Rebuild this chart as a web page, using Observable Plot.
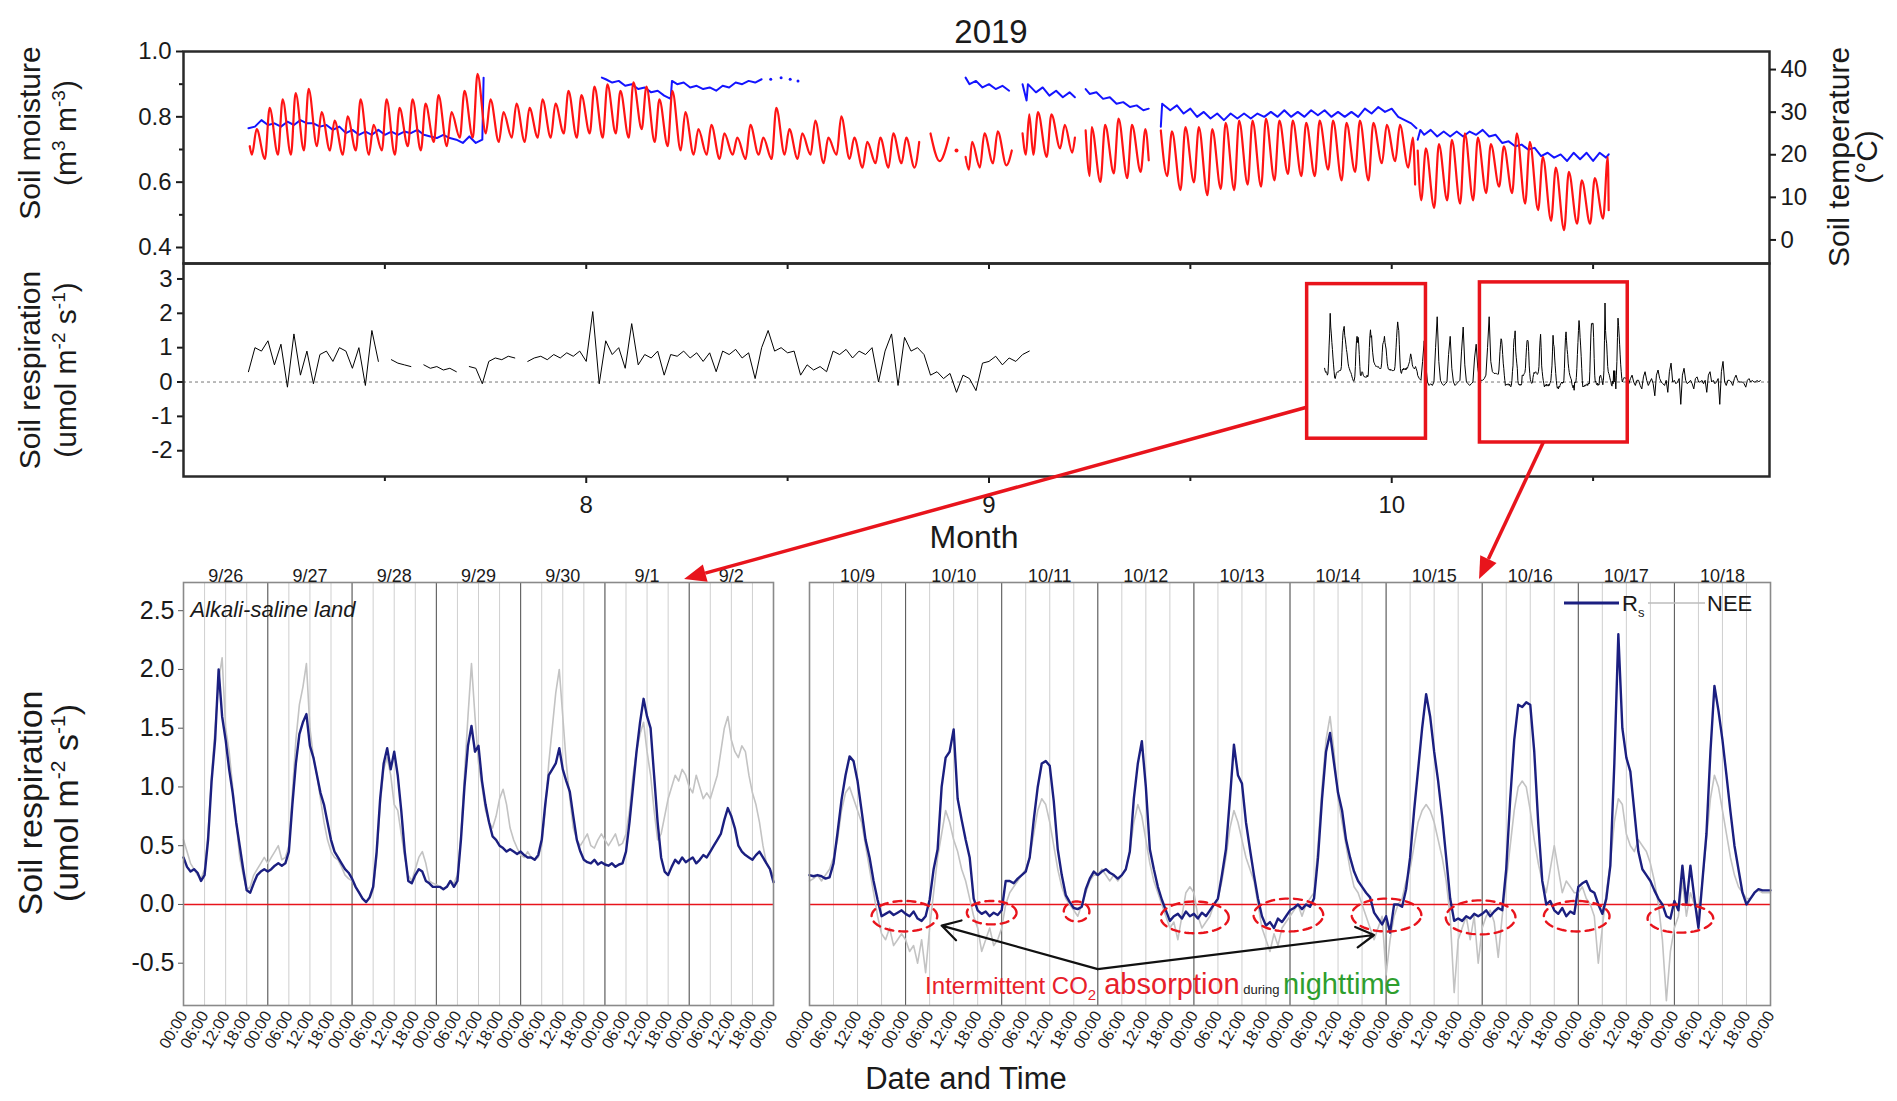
<!DOCTYPE html>
<html>
<head>
<meta charset="utf-8">
<script src="https://cdn.jsdelivr.net/npm/d3@7"></script>
<script src="https://cdn.jsdelivr.net/npm/@observablehq/plot@0.6"></script>
<style>
  html,body{margin:0;padding:0;background:#fff;}
  #page{position:relative;width:1897px;height:1101px;overflow:hidden;background:#fff;}
</style>
</head>
<body>
<div id="page"></div>
<script>
// ================= DATA =================
// Top & middle panels: time in days counted from 1 July 2019 00:00
const monthTicks = [8, 9, 10];
const monthMinorTicks = [7.5, 8.5, 9.5, 10.5];
const moistureTicks = [0.4, 0.6, 0.8, 1.0];
const moistureMinorTicks = [0.5, 0.7, 0.9];
const tempTicks = [0, 10, 20, 30, 40];
const respTicks = [-2, -1, 0, 1, 2, 3];

// Soil temperature (°C): daily [min, max] readings and short segments [day, value]
const tempJulAugHead = [[5.1, 22]];
const tempJulAugStart = 5;
const tempJulAug = [[20,26],[19,31],[20,33],[20,34.5],[21,35.5],[22,30],[21,28],[20,29],[21,33],[20,27],
  [21,33],[20,31],[22,33],[21,32],[23,34],[22,30],[24,35],[24,39],[25,33],[23,30],
  [24,32],[23,31],[24,33],[24,32],[25,35],[24,34],[25,36],[24,36.5],[25,35],[24,37],
  [26,36],[23,33],[22,35],[21,30],[20,26],[20,27],[19,25],[20,24],[19,27],[20,24],
  [19,31],[20,26],[19,25],[20,28],[18,24],[20,29],[19,24],[17,23],[18,24],[17,25],[18,24],[17,23]];
const tempLateAug = [[57.5,25],[58.2,18.5],[58.9,24]];
const tempDot = [[59.5,21]];
const tempSep1 = [[60.2,19.5],[60.45,16.5],[60.7,23],[61.3,17],[61.65,25],[62.3,18],[62.65,25.5],[63.3,17.5],[63.7,21]];
const tempSep4 = [[64.5,25],[64.75,20],[65.0,29.5],[65.3,20],[65.65,30],[66.3,19.5],[66.65,29.5],[67.3,21.5],[67.65,27],[68.2,20.5],[68.4,24]];
const tempSep8 = [[69.2,25.7],[69.5,15],[69.65,26.5],[70.3,13.6],[70.65,27],[71.3,15.6],[71.65,28.5],[72.3,14.5],[72.65,27],[73.3,16],[73.65,26],[73.9,18.7]];
const tempSep14Head = [[74.8,25.7]];
const tempSep14Start = 75;
const tempSep14 = [[15,25.5],[11.7,26.5],[13.5,26.5],[10.5,26],[12,27.5],[11.7,28],[13,28],[12.5,28.5],[14,28],[15.5,28],
  [15,27.5],[15,28],[16.5,28],[14,27.5],[16,28],[14,27.5],[18,27],[18.5,27],[17,24]];
const tempSep14Tail = [[93.8,13]];
const tempOct3Head = [[94.0,21]];
const tempOct3Start = 94;
const tempOct3 = [[9.3,21.5],[7.5,22.5],[9.3,23.5],[8.5,25],[9.3,24],[11,22.5],[12.5,22],[11,25],[8.5,23],[7,19.5],
  [4.5,17],[2.3,16],[3.8,14],[3.8,14.5],[5,19.5]];
const tempOct3Tail = [[108.7,7]];

// Soil moisture (m3 m-3): [day, value]
const moistJul = [[5,0.765],[5.5,0.77],[6,0.79],[6.5,0.775],[7,0.78],[7.5,0.77],[8,0.785],[8.5,0.775],[9,0.79],[9.5,0.78],
  [10,0.78],[10.5,0.77],[11,0.775],[11.5,0.76],[12,0.77],[12.5,0.75],[13,0.76],[13.5,0.745],[14,0.755],[14.5,0.745],
  [15,0.76],[15.5,0.745],[16,0.755],[16.5,0.745],[17,0.755],[17.5,0.75],[18,0.76],[18.5,0.745],[19,0.74],[19.5,0.735],
  [20,0.745],[20.5,0.735],[21,0.73],[21.5,0.72],[22,0.74],[22.5,0.72],[23,0.73],[23.1,0.92]];
const moistAug = [[32.2,0.92],[32.5,0.915],[33,0.905],[33.5,0.91],[34,0.895],[34.5,0.9],[35,0.885],[35.5,0.89],[36,0.875],[36.5,0.88],
  [37,0.865],[37.5,0.855],[37.6,0.91],[38,0.9],[38.5,0.905],[39,0.89],[39.5,0.895],[40,0.885],[40.5,0.89],[41,0.88],
  [41.5,0.895],[42,0.89],[42.5,0.905],[43,0.9],[43.5,0.91],[44,0.905],[44.5,0.915]];
const moistAugDots = [[45.2,0.915],[46,0.92],[46.7,0.915],[47.3,0.91]];
const moistSep1 = [[60.2,0.92],[60.5,0.9],[61,0.91],[61.5,0.89],[62,0.9],[62.5,0.885],[63,0.895],[63.5,0.88]];
const moistSep4 = [[64.5,0.9],[64.8,0.85],[64.9,0.9],[65.5,0.875],[66,0.89],[66.5,0.865],[67,0.88],[67.5,0.86],[68,0.875],[68.4,0.86]];
const moistSep8 = [[69.2,0.885],[69.5,0.87],[70,0.875],[70.5,0.855],[71,0.86],[71.5,0.84],[72,0.845],[72.5,0.83],[73,0.835],[73.5,0.82],[73.9,0.825]];
const moistSep14 = [[74.8,0.77],[74.9,0.84],[75.5,0.82],[76,0.835],[76.5,0.81],[77,0.825],[77.5,0.8],[78,0.815],[78.5,0.795],[79,0.81],
  [79.5,0.79],[80,0.81],[80.5,0.795],[81,0.81],[81.5,0.795],[82,0.81],[82.5,0.8],[83,0.815],[83.5,0.8],[84,0.82],
  [84.5,0.8],[85,0.815],[85.5,0.8],[86,0.82],[86.5,0.805],[87,0.82],[87.5,0.8],[88,0.815],[88.5,0.8],[89,0.815],
  [89.5,0.8],[90,0.825],[90.5,0.81],[91,0.83],[91.5,0.815],[92,0.825],[92.5,0.8],[93,0.79],[93.5,0.78],[93.9,0.765]];
const moistOct = [[94,0.73],[94.2,0.76],[94.5,0.745],[95,0.76],[95.5,0.74],[96,0.755],[96.5,0.74],[97,0.755],[97.5,0.74],[98,0.755],
  [98.5,0.745],[99,0.76],[99.5,0.74],[100,0.745],[100.5,0.72],[101,0.725],[101.5,0.71],[102,0.715],[102.5,0.7],[103,0.705],
  [103.5,0.68],[104,0.69],[104.5,0.675],[105,0.685],[105.5,0.665],[106,0.69],[106.5,0.67],[107,0.69],[107.5,0.665],[108,0.69],
  [108.5,0.675],[108.7,0.685]];

// Soil respiration overview, 6 Jul - 4 Sep, every 12 h (null = gap)
const respJulSepStart = 5;
const respJulSep = [0.3,1.0,0.9,1.2,0.5,1.1,-0.15,1.4,0.2,0.9,
  -0.05,0.8,0.9,0.6,1.0,0.9,0.4,1.0,-0.1,1.5,
  0.6,null,0.65,0.55,0.5,0.45,null,0.5,0.4,0.45,
  0.35,0.4,0.3,null,0.45,0.4,-0.05,0.6,0.7,0.65,
  0.75,0.7,null,0.6,0.7,0.75,0.65,0.8,0.7,0.85,
  0.75,0.9,0.6,2.05,-0.05,1.2,0.8,1.0,0.4,1.7,
  0.5,0.8,0.7,0.9,0.2,0.8,0.75,0.9,0.7,0.85,
  0.6,0.85,0.3,0.9,0.8,0.95,0.7,0.85,0.1,1.0,
  1.5,0.9,1.0,0.85,0.9,0.2,0.5,0.35,0.45,0.3,
  0.9,0.8,0.95,0.7,0.9,0.8,1.0,0.0,0.9,1.4,
  -0.1,1.3,0.9,1.0,0.8,0.2,0.3,0.1,0.25,-0.3,
  0.2,0.1,-0.25,0.55,0.6,0.75,0.5,0.7,0.6,0.8,0.9];
// 3 Oct - 8 Oct, every 3 h
const respOct3 = [0.19,0.10,0.05,0.6,1.2,0.5,0.0,-0.1, -0.05,-0.1,0.0,1.0,1.9,0.6,0.05,-0.05,
  -0.1,-0.05,0.0,0.8,1.33,0.4,0.0,-0.1, -0.05,0.0,0.05,0.9,1.6,0.5,0.0,-0.05,
  -0.1,-0.05,0.0,0.7,1.1,0.4,0.1,0.05, 0.05,0.1,0.2,1.0,1.9,0.6,0.3,0.25];
// 19 Oct - 29 Oct, every 3 h
const respOct19 = [0.12,0.05,-0.05,0.1,0.2,0.0,-0.1,0.05, 0.05,-0.1,-0.2,0.15,0.3,0.05,-0.1,0.0,
  0.1,-0.05,-0.4,0.2,0.35,0.1,0.0,-0.05, -0.1,0.05,-0.3,0.3,0.55,0.0,0.05,-0.05,
  0.0,0.1,-0.65,0.2,0.4,0.05,-0.05,0.0, 0.05,-0.05,-0.2,0.1,0.15,0.0,0.0,0.05,
  -0.05,0.05,-0.3,0.2,0.3,0.0,0.05,-0.05, 0.0,0.1,-0.65,0.3,0.6,0.0,-0.1,0.05,
  0.05,0.0,-0.1,0.1,0.2,0.05,0.0,0.0, 0.0,-0.05,-0.15,0.05,0.1,0.0,0.05,0.0,
  0.0,0.05,0.0,0.05];

// Highlight boxes on the overview (month units, respiration units)
const boxX1 = [9.79, 10.219];
const boxX2 = [10.085, 10.586];
const boxY1 = [-1.65, -1.76];
const boxY2 = [2.85, 2.9];

// Bottom panels: hourly Rs and NEE
const leftDateLabels = ["9/26","9/27","9/28","9/29","9/30","9/1","9/2"];
const rightDateLabels = ["10/9","10/10","10/11","10/12","10/13","10/14","10/15","10/16","10/17","10/18"];
const bottomYTicks = [-0.5, 0, 0.5, 1, 1.5, 2, 2.5];

const rsLeft = [
  0.40,0.32,0.28,0.30,0.27,0.20,0.25,0.55,1.05,1.40,2.00,1.60,1.40,1.15,0.95,0.70,0.50,0.30,0.12,0.10,0.18,0.25,0.28,0.30,
  0.28,0.30,0.33,0.35,0.33,0.35,0.45,0.85,1.20,1.45,1.55,1.62,1.35,1.25,1.10,0.95,0.85,0.70,0.55,0.45,0.40,0.35,0.30,0.27,
  0.22,0.15,0.10,0.05,0.02,0.06,0.15,0.45,0.90,1.20,1.33,1.15,1.30,1.10,0.80,0.45,0.20,0.18,0.25,0.30,0.28,0.20,0.18,0.15,
  0.15,0.15,0.13,0.15,0.20,0.15,0.20,0.55,1.00,1.35,1.52,1.30,1.35,1.05,0.85,0.70,0.58,0.55,0.50,0.48,0.45,0.47,0.45,0.43,
  0.45,0.42,0.40,0.40,0.38,0.42,0.55,0.85,1.10,1.15,1.20,1.33,1.15,1.05,0.96,0.75,0.55,0.45,0.38,0.36,0.35,0.38,0.34,0.36,
  0.34,0.33,0.35,0.32,0.34,0.35,0.45,0.70,1.00,1.30,1.55,1.75,1.60,1.50,1.10,0.70,0.40,0.28,0.25,0.32,0.38,0.35,0.40,0.36,
  0.38,0.40,0.35,0.38,0.42,0.40,0.45,0.50,0.55,0.60,0.72,0.82,0.75,0.65,0.50,0.45,0.42,0.40,0.38,0.42,0.45,0.40,0.35,0.30,
  0.19];
const neeLeft = [
  0.55,0.45,0.35,0.30,0.25,0.22,0.30,0.60,1.10,1.50,1.90,2.10,1.50,1.30,1.00,0.70,0.40,0.25,0.12,0.15,0.25,0.30,0.35,0.40,
  0.35,0.40,0.45,0.50,0.38,0.40,0.50,0.95,1.40,1.70,1.85,2.05,1.50,1.25,1.10,0.90,0.70,0.55,0.45,0.40,0.38,0.32,0.25,0.22,
  0.20,0.15,0.10,0.05,0.02,0.05,0.12,0.40,0.85,1.15,1.25,1.10,0.85,0.80,0.60,0.40,0.25,0.20,0.30,0.40,0.45,0.35,0.20,0.18,
  0.17,0.15,0.13,0.15,0.20,0.18,0.25,0.60,1.10,1.60,2.05,1.60,1.20,1.00,0.80,0.70,0.65,0.75,0.90,0.98,0.85,0.65,0.55,0.48,
  0.42,0.40,0.45,0.40,0.38,0.40,0.50,0.80,1.20,1.50,1.80,2.00,1.60,1.20,0.90,0.65,0.55,0.50,0.55,0.60,0.50,0.48,0.55,0.60,
  0.55,0.50,0.55,0.60,0.50,0.52,0.60,0.80,1.10,1.30,1.45,1.55,1.30,1.10,0.80,0.55,0.60,0.75,0.90,1.00,1.10,1.05,1.15,1.10,
  1.00,0.95,1.10,1.00,0.90,0.95,0.90,1.00,1.10,1.30,1.50,1.60,1.40,1.30,1.25,1.35,1.30,1.10,0.95,0.85,0.70,0.50,0.35,0.30,
  0.25];
const rsRight = [
  0.25,0.24,0.25,0.24,0.22,0.23,0.35,0.61,0.89,1.10,1.26,1.22,1.05,0.80,0.55,0.40,0.20,0.04,-0.10,-0.08,-0.06,-0.09,-0.07,-0.05,
  -0.08,-0.10,-0.06,-0.12,-0.14,-0.10,0.04,0.30,0.47,1.00,1.25,1.30,1.49,0.90,0.72,0.55,0.40,0.05,-0.05,-0.08,-0.06,-0.10,-0.07,-0.09,
  -0.05,0.20,0.20,0.18,0.22,0.25,0.28,0.40,0.72,1.00,1.20,1.22,1.18,0.88,0.47,0.25,0.08,0.02,-0.03,-0.04,-0.02,0.13,0.22,0.28,
  0.25,0.28,0.30,0.27,0.25,0.22,0.25,0.30,0.45,0.90,1.20,1.39,1.00,0.47,0.30,0.15,0.04,-0.05,-0.14,-0.10,-0.08,-0.12,-0.06,-0.10,
  -0.08,-0.12,-0.07,-0.10,-0.05,0.00,0.05,0.25,0.47,0.90,1.36,1.10,1.03,0.70,0.47,0.25,0.05,-0.10,-0.18,-0.15,-0.20,-0.12,-0.15,-0.10,
  -0.05,-0.03,0.00,-0.04,0.00,-0.02,0.05,0.40,0.90,1.30,1.46,1.20,0.95,0.80,0.55,0.40,0.28,0.20,0.15,0.10,0.06,-0.07,-0.12,-0.17,
  -0.10,-0.24,0.00,0.00,-0.02,0.13,0.40,0.80,1.15,1.50,1.79,1.60,1.30,1.05,0.75,0.40,0.05,-0.14,-0.12,-0.14,-0.10,-0.12,-0.08,-0.10,
  -0.08,-0.05,-0.10,-0.06,-0.03,-0.05,0.30,0.90,1.40,1.70,1.68,1.72,1.70,1.30,0.69,0.20,0.00,0.03,-0.05,-0.08,-0.03,-0.10,-0.06,-0.08,
  0.15,0.18,0.20,0.12,0.10,0.00,-0.08,0.05,0.33,1.20,2.30,1.50,1.25,1.13,0.79,0.45,0.30,0.25,0.20,0.12,0.05,0.00,-0.10,-0.12,
  0.03,-0.05,0.33,0.00,0.33,0.05,-0.20,0.20,0.60,1.30,1.86,1.65,1.40,1.10,0.79,0.50,0.30,0.10,0.00,0.05,0.10,0.13,0.12,0.12,
  0.12];
const neeRight = [
  0.20,0.22,0.25,0.20,0.25,0.30,0.40,0.55,0.80,0.95,1.00,0.90,0.80,0.70,0.50,0.30,0.10,-0.10,-0.25,-0.30,-0.20,-0.35,-0.30,-0.25,
  -0.30,-0.40,-0.35,-0.50,-0.30,-0.58,-0.20,0.10,0.40,0.60,0.80,0.70,0.55,0.45,0.30,0.20,0.05,-0.10,-0.20,-0.40,-0.30,-0.20,-0.35,-0.30,
  -0.20,0.00,0.10,0.15,0.20,0.25,0.30,0.40,0.60,0.80,0.90,0.85,0.70,0.50,0.30,0.15,0.05,0.00,-0.05,-0.10,0.00,0.10,0.20,0.25,
  0.25,0.30,0.25,0.20,0.25,0.20,0.25,0.30,0.45,0.70,0.85,0.75,0.55,0.35,0.20,0.10,0.00,-0.10,-0.20,-0.15,-0.30,-0.10,0.10,0.15,
  0.10,-0.10,-0.20,-0.15,-0.10,0.00,0.05,0.20,0.40,0.65,0.80,0.70,0.55,0.40,0.30,0.20,0.00,-0.20,-0.30,-0.40,-0.25,-0.35,-0.20,-0.15,
  -0.10,-0.05,0.00,-0.10,0.00,0.05,0.10,0.50,1.00,1.40,1.60,1.30,0.90,0.70,0.50,0.30,0.15,0.10,0.00,-0.10,-0.20,-0.30,-0.20,-0.10,
  -0.60,-0.30,-0.10,0.00,0.05,0.20,0.30,0.50,0.70,0.80,0.85,0.80,0.70,0.55,0.40,0.20,-0.10,-0.75,-0.30,-0.20,-0.10,-0.30,-0.10,-0.50,
  -0.20,-0.10,-0.05,-0.15,-0.45,-0.10,0.20,0.50,0.80,1.00,1.05,1.00,0.80,0.55,0.35,0.20,0.10,0.30,0.50,0.30,0.10,0.20,0.15,0.10,
  0.10,0.15,0.05,0.00,-0.10,-0.50,-0.20,0.10,0.35,0.70,0.90,0.85,0.60,0.50,0.45,0.55,0.50,0.45,0.35,0.20,0.00,-0.30,-0.82,-0.40,
  -0.20,-0.10,0.20,-0.10,0.10,0.00,-0.10,0.20,0.55,0.90,1.10,1.00,0.80,0.60,0.40,0.25,0.15,0.10,0.05,0.05,0.10,0.12,0.10,0.10,
  0.10];

// Night-time CO2 uptake ellipses (hours after 9 Oct 00:00, respiration units)
const ellCenterH = [23.7, 45.5, 66.7, 96.2, 119.6, 144.1, 167.6, 191.6, 217.5];
const ellHalfH   = [8.2, 6.2, 3.2, 8.5, 8.7, 8.7, 8.7, 8.2, 8.2];
const ellCenterV = [-0.10, -0.07, -0.06, -0.11, -0.09, -0.09, -0.11, -0.10, -0.12];
const ellHalfV   = [0.13, 0.10, 0.085, 0.135, 0.14, 0.14, 0.145, 0.13, 0.12];

// Annotation anchors
const noteApex = [Date.UTC(2019, 9, 12, 0, 0), -0.55];
const noteTargets = [[Date.UTC(2019, 9, 10, 9, 0), -0.18], [Date.UTC(2019, 9, 14, 21, 0), -0.26]];
const noteTextAt = [Date.UTC(2019, 9, 10, 5, 0), -0.77];
const redArrowFrom = [[9.79, -0.75], [10.378, -1.76]];
const redArrowTo = [Date.UTC(2019, 9, 1, 22, 40), Date.UTC(2019, 9, 15, 23, 20)];

// ================= HELPERS =================
const W = 1897;
const FONT = "'Liberation Sans', Arial, Helvetica, sans-serif";
const page = document.getElementById("page");
const baseStyle = {fontFamily: FONT, fontSize: "24px", color: "#1a1a1a", background: "transparent", overflow: "visible"};
function place(el, left, top) {
  el.style.position = "absolute"; el.style.left = left + "px"; el.style.top = top + "px";
  el.style.background = "transparent"; el.style.overflow = "visible";
  page.appendChild(el); return el;
}
const dayToMonth = d => d < 31 ? 7 + d / 31 : d < 62 ? 8 + (d - 31) / 31 : d < 92 ? 9 + (d - 62) / 30 : 10 + (d - 92) / 31;
const diurnal = (start, pairs) => pairs.flatMap(([lo, hi], i) => [[start + i + 0.27, lo], [start + i + 0.63, hi]]);
const monthDomain = [7, 10.938];

const tempSegs = [
  [...tempJulAugHead, ...diurnal(tempJulAugStart, tempJulAug)],
  tempLateAug, tempSep1, tempSep4, tempSep8,
  [...tempSep14Head, ...diurnal(tempSep14Start, tempSep14), ...tempSep14Tail],
  [...tempOct3Head, ...diurnal(tempOct3Start, tempOct3), ...tempOct3Tail]
];
const tempPts = tempSegs.flatMap((seg, k) => seg.map(([d, v]) => ({m: dayToMonth(d), v, seg: k})));
const tempDotPts = tempDot.map(([d, v]) => ({m: dayToMonth(d), v}));
const moistSegs = [moistJul, moistAug, moistSep1, moistSep4, moistSep8, moistSep14, moistOct];
const moistPts = moistSegs.flatMap((seg, k) => seg.map(([d, v]) => ({m: dayToMonth(d), v, seg: k})));
const moistDotPts = moistAugDots.map(([d, v]) => ({m: dayToMonth(d), v}));

const respPts = [
  ...respJulSep.map((v, i) => ({m: dayToMonth(respJulSepStart + i * 0.5), v, seg: 0})),
  ...rsLeft.map((v, i) => ({m: dayToMonth(87 + i / 24), v, seg: 1})),
  ...respOct3.map((v, i) => ({m: dayToMonth(94 + i / 8), v, seg: 1})),
  ...rsRight.map((v, i) => ({m: dayToMonth(100 + i / 24), v, seg: 1})),
  ...respOct19.map((v, i) => ({m: dayToMonth(110 + i / 8), v, seg: 1}))
];
const boxes = boxX1.map((x1, i) => ({x1, x2: boxX2[i], y1: boxY1[i], y2: boxY2[i]}));

const HOUR = 3600e3;
const t0L = Date.UTC(2019, 8, 26), t1L = Date.UTC(2019, 9, 3);
const t0R = Date.UTC(2019, 9, 9), t1R = Date.UTC(2019, 9, 19);
const leftPts = rsLeft.map((v, i) => ({t: new Date(t0L + i * HOUR), rs: v, nee: neeLeft[i]}));
const rightPts = rsRight.map((v, i) => ({t: new Date(t0R + i * HOUR), rs: v, nee: neeRight[i]}));

function bottomMarks(t0, t1, pts, labels) {
  const six = d3.utcHour.every(6).range(new Date(t0), new Date(t1 + 1));
  const days = d3.utcDay.range(new Date(t0), new Date(t1 + 1));
  const noons = labels.map((_, i) => new Date(t0 + (i + 0.5) * 24 * HOUR));
  return [
    Plot.ruleX(six, {stroke: "#cfcfcf", strokeWidth: 1}),
    Plot.ruleX(days, {stroke: "#555", strokeWidth: 1}),
    Plot.ruleY([0], {stroke: "#e8141c", strokeWidth: 1.6}),
    Plot.line(pts, {x: "t", y: "nee", stroke: "#c3c3c3", strokeWidth: 1.6}),
    Plot.line(pts, {x: "t", y: "rs", stroke: "#1b1f80", strokeWidth: 2.4}),
    Plot.frame({stroke: "#8a8a8a", strokeWidth: 1.6}),
    Plot.axisX({ticks: six, tickFormat: d3.utcFormat("%H:%M"), tickRotate: -60, tickSize: 0, tickPadding: 7,
      textAnchor: "end", lineAnchor: "middle", fontSize: 16, label: null}),
    Plot.text(labels, {x: (d, i) => noons[i], text: d => d, frameAnchor: "top", dy: -13, fontSize: 18})
  ];
}

// ================= TOP PANEL =================
const topMoist = Plot.plot({
  width: W, height: 263, marginLeft: 183, marginRight: 128, marginTop: 51, marginBottom: 0,
  style: baseStyle,
  x: {domain: monthDomain, axis: null},
  y: {domain: [0.351, 1.0]},
  marks: [
    Plot.line(moistPts, {x: "m", y: "v", z: "seg", stroke: "#1414ff", strokeWidth: 2}),
    Plot.dot(moistDotPts, {x: "m", y: "v", r: 1.5, fill: "#1414ff"}),
    Plot.axisY({ticks: moistureTicks, tickFormat: d => d.toFixed(1), tickSize: 7, tickPadding: 5, strokeWidth: 2, fontSize: 24, label: null}),
    Plot.axisY({ticks: moistureMinorTicks, tickFormat: () => "", tickSize: 4, strokeWidth: 2, label: null}),
    Plot.frame({stroke: "#2a2a2a", strokeWidth: 2.5})
  ]
});
place(topMoist, 0, 0);

const topTemp = Plot.plot({
  width: W, height: 263, marginLeft: 183, marginRight: 128, marginTop: 51, marginBottom: 0,
  style: baseStyle,
  x: {domain: monthDomain, axis: null},
  y: {domain: [-5.53, 44.24]},
  marks: [
    Plot.line(tempPts, {x: "m", y: "v", z: "seg", stroke: "#ff1414", strokeWidth: 2.2, curve: "monotone-x"}),
    Plot.dot(tempDotPts, {x: "m", y: "v", r: 2, fill: "#ff1414"}),
    Plot.axisY({anchor: "right", ticks: tempTicks, tickSize: 6, tickPadding: 5, strokeWidth: 2, fontSize: 24, label: null})
  ]
});
place(topTemp, 0, 0);

// ================= MIDDLE PANEL =================
const MID_TOP = 258;
const mid = Plot.plot({
  width: W, height: 268, marginLeft: 183, marginRight: 128, marginTop: 5, marginBottom: 50,
  style: baseStyle,
  x: {domain: monthDomain},
  y: {domain: [-2.75, 3.45]},
  marks: [
    Plot.ruleY([0], {stroke: "#777", strokeDasharray: "3,3", strokeWidth: 1}),
    Plot.line(respPts, {x: "m", y: "v", z: "seg", stroke: "#000", strokeWidth: 1}),
    Plot.rect(boxes, {x1: "x1", x2: "x2", y1: "y1", y2: "y2", fill: "none", stroke: "#e8141c", strokeWidth: 3.5}),
    Plot.axisY({ticks: respTicks, tickFormat: d => String(d), tickSize: 6, tickPadding: 5, strokeWidth: 2, fontSize: 24, label: null}),
    Plot.axisX({ticks: monthTicks, tickFormat: d => String(d), tickSize: 7, tickPadding: 12, strokeWidth: 2, fontSize: 24, label: null}),
    Plot.axisX({ticks: monthMinorTicks, tickFormat: () => "", tickSize: 5, strokeWidth: 2, label: null}),
    Plot.axisX({anchor: "top", ticks: [...monthMinorTicks, ...monthTicks], tickFormat: () => "", tickSize: 5, dy: 5, strokeWidth: 2, label: null}),
    Plot.frame({stroke: "#2a2a2a", strokeWidth: 2.5})
  ]
});
place(mid, 0, MID_TOP);

// ================= BOTTOM PANELS =================
const BOT_TOP = 540;
const left = Plot.plot({
  width: 800, height: 561, marginLeft: 183, marginRight: 27, marginTop: 42, marginBottom: 96,
  style: baseStyle,
  x: {type: "utc", domain: [new Date(t0L), new Date(t1L)]},
  y: {domain: [-0.86, 2.74]},
  marks: [
    ...bottomMarks(t0L, t1L, leftPts, leftDateLabels),
    Plot.axisY({ticks: bottomYTicks, tickFormat: d => d.toFixed(1), tickSize: 5, tickPadding: 4, stroke: "#555", fontSize: 25, label: null}),
    Plot.text(["Alkali-saline land"], {frameAnchor: "top-left", dx: 7, dy: 19, textAnchor: "start", fontStyle: "italic", fontSize: 22})
  ]
});
place(left, 0, BOT_TOP);

const RIGHT_LEFT = 790;
const ellPts = ellCenterH.flatMap((cx, k) => d3.range(0, 73).map(j => {
  const a = j / 72 * 2 * Math.PI;
  return {t: new Date(t0R + (cx + ellHalfH[k] * Math.cos(a)) * HOUR), v: ellCenterV[k] + ellHalfV[k] * Math.sin(a), k};
}));
const noteArrows = noteTargets.map(([t, v]) => ({x1: new Date(noteApex[0]), y1: noteApex[1], x2: new Date(t), y2: v}));
const right = Plot.plot({
  width: 1107, height: 561, marginLeft: 19, marginRight: 127, marginTop: 42, marginBottom: 96,
  style: baseStyle,
  x: {type: "utc", domain: [new Date(t0R), new Date(t1R)]},
  y: {domain: [-0.86, 2.74], axis: null},
  marks: [
    ...bottomMarks(t0R, t1R, rightPts, rightDateLabels),
    Plot.line(ellPts, {x: "t", y: "v", z: "k", stroke: "#e8141c", strokeWidth: 2.4, strokeDasharray: "8,6"}),
    Plot.arrow(noteArrows, {x1: "x1", y1: "y1", x2: "x2", y2: "y2", stroke: "#111", strokeWidth: 2.2, headLength: 14})
  ]
});
place(right, RIGHT_LEFT, BOT_TOP);

// ================= OVERLAY (titles, labels, connectors) =================
const ov = d3.create("svg").attr("width", W).attr("height", 1101)
  .style("position", "absolute").style("left", "0px").style("top", "0px").style("pointer-events", "none")
  .attr("font-family", FONT).attr("fill", "#1a1a1a");

function rich(x, y, rot, parts, size, anchor = "middle") {
  const t = ov.append("text").attr("transform", `translate(${x},${y}) rotate(${rot})`)
    .attr("text-anchor", anchor).attr("font-size", size);
  parts.forEach(p => {
    const s = t.append("tspan").text(p.t);
    if (p.size) s.attr("font-size", p.size);
    if (p.dy) s.attr("dy", p.dy);
    if (p.fill) s.attr("fill", p.fill);
  });
  return t;
}

ov.append("text").attr("x", 991).attr("y", 43).attr("text-anchor", "middle").attr("font-size", 33).text("2019");
// left / right axis titles
rich(40, 133, -90, [{t: "Soil moisture"}], 30);
rich(76, 133, -90, [{t: "(m"}, {t: "3", size: 19, dy: -11}, {t: " m", dy: 11}, {t: "-3", size: 19, dy: -11}, {t: ")", dy: 11}], 30);
rich(40, 370, -90, [{t: "Soil respiration"}], 30);
rich(76, 370, -90, [{t: "(umol m"}, {t: "-2", size: 19, dy: -11}, {t: " s", dy: 11}, {t: "-1", size: 19, dy: -11}, {t: ")", dy: 11}], 30);
rich(1849, 157, -90, [{t: "Soil temperature"}], 30);
rich(1877, 157, -90, [{t: "(°C)"}], 30);
rich(42, 803, -90, [{t: "Soil respiration"}], 34);
rich(78, 803, -90, [{t: "(umol m"}, {t: "-2", size: 21, dy: -13}, {t: " s", dy: 13}, {t: "-1", size: 21, dy: -13}, {t: ")", dy: 13}], 34);
ov.append("text").attr("x", 974).attr("y", 548).attr("text-anchor", "middle").attr("font-size", 32).text("Month");
ov.append("text").attr("x", 966).attr("y", 1089).attr("text-anchor", "middle").attr("font-size", 31).text("Date and Time");

// legend (right panel, top-right corner)
const rx = right.scale("x"), ry = right.scale("y");
const frameR = RIGHT_LEFT + rx.range[1], frameT = BOT_TOP + ry.range[1];
const legY = frameT + 21;
ov.append("line").attr("x1", frameR - 206).attr("x2", frameR - 151).attr("y1", legY).attr("y2", legY).attr("stroke", "#1b1f80").attr("stroke-width", 3);
rich(frameR - 148, legY + 8, 0, [{t: "R"}, {t: "s", size: 13, dy: 6}], 22, "start");
ov.append("line").attr("x1", frameR - 122).attr("x2", frameR - 65).attr("y1", legY).attr("y2", legY).attr("stroke", "#bdbdbd").attr("stroke-width", 1.5);
ov.append("text").attr("x", frameR - 63).attr("y", legY + 8).attr("font-size", 22).text("NEE");

// note text
const nx = RIGHT_LEFT + rx.apply(new Date(noteTextAt[0])), ny = BOT_TOP + ry.apply(noteTextAt[1]);
rich(nx, ny, 0, [
  {t: "Intermittent CO", fill: "#e8202a", size: 24},
  {t: "2", fill: "#e8202a", size: 15, dy: 6},
  {t: " absorption", fill: "#e8202a", size: 29, dy: -6},
  {t: " during ", fill: "#222", size: 13},
  {t: "nighttime", fill: "#2e9e2e", size: 29}
], 24, "start");

// red connector arrows from the overview boxes to the zoomed panels
const mx = mid.scale("x"), my = mid.scale("y");
const lx = left.scale("x"), ly = left.scale("y");
function redArrow(x1, y1, x2, y2) {
  const dx = x2 - x1, dy = y2 - y1, L = Math.hypot(dx, dy), ux = dx / L, uy = dy / L;
  const hl = 22, hw = 9, bx = x2 - ux * hl, by = y2 - uy * hl;
  ov.append("line").attr("x1", x1).attr("y1", y1).attr("x2", bx).attr("y2", by).attr("stroke", "#e8141c").attr("stroke-width", 3.5);
  ov.append("path").attr("d", `M${x2},${y2}L${bx - uy * hw},${by + ux * hw}L${bx + uy * hw},${by - ux * hw}Z`).attr("fill", "#e8141c");
}
redArrow(mx.apply(redArrowFrom[0][0]), MID_TOP + my.apply(redArrowFrom[0][1]),
  lx.apply(new Date(redArrowTo[0])), BOT_TOP + ly.range[1] - 3);
redArrow(mx.apply(redArrowFrom[1][0]), MID_TOP + my.apply(redArrowFrom[1][1]),
  RIGHT_LEFT + rx.apply(new Date(redArrowTo[1])), BOT_TOP + ry.range[1] - 3);

page.appendChild(ov.node());
</script>
</body>
</html>
